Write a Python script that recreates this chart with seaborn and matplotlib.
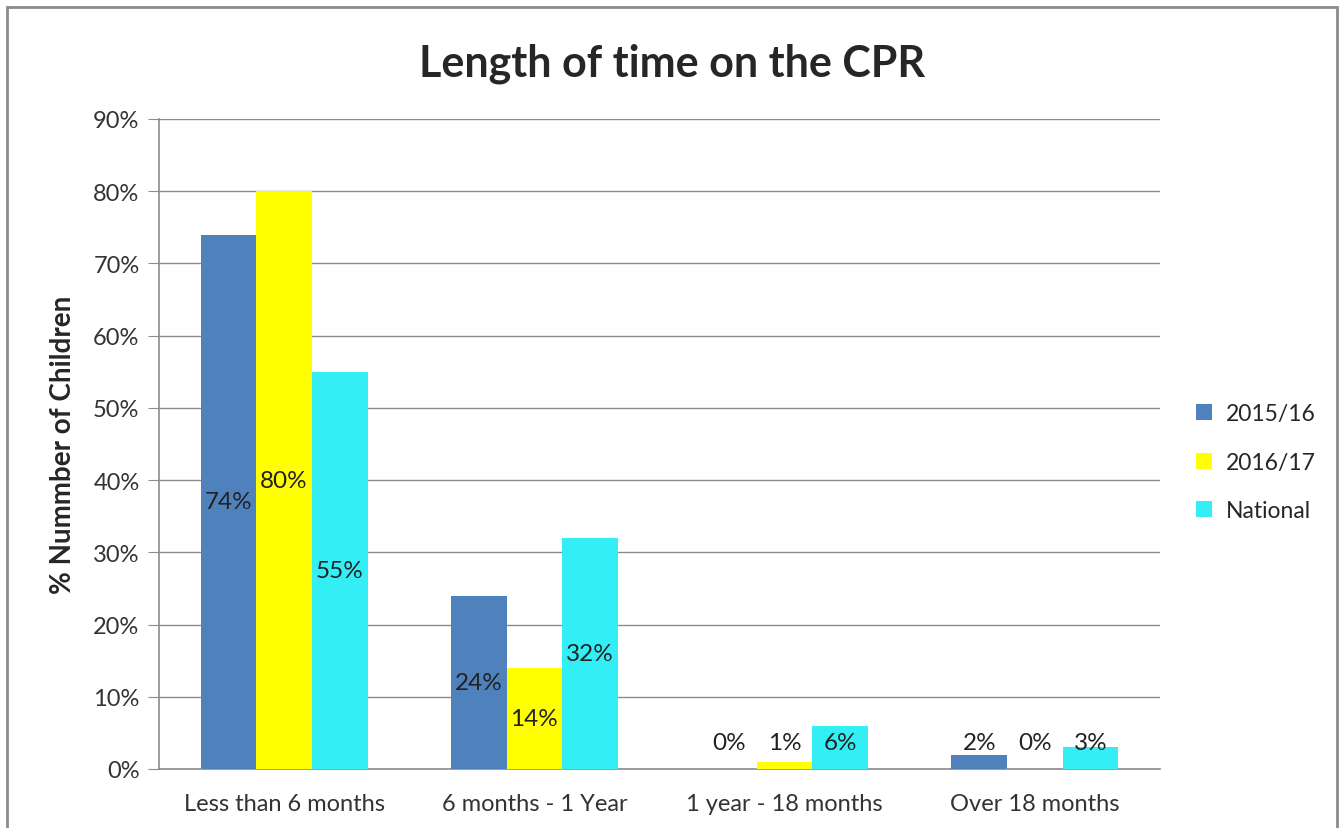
import pandas as pd
import seaborn as sns
import matplotlib.pyplot as plt
from matplotlib.patches import Rectangle

# Data
categories = ['Less than 6 months', '6 months - 1 Year', '1 year - 18 months', 'Over 18 months']
series = ['2015/16', '2016/17', 'National']
vals_2015 = [74, 24, 0, 2]
vals_2016 = [80, 14, 1, 0]
vals_national = [55, 32, 6, 3]
colors = ['#4F81BD', '#FFFF00', '#33EEF5']

rows = []
for s, vals in zip(series, [vals_2015, vals_2016, vals_national]):
    for c, v in zip(categories, vals):
        rows.append({'category': c, 'series': s, 'value': v})
df = pd.DataFrame(rows)

sns.set_style('white')
plt.rcParams['font.family'] = ['Lato', 'DejaVu Sans']

fig = plt.figure(figsize=(13.44, 8.29), dpi=100)
ax = fig.add_axes([0.1183, 0.0712, 0.7448, 0.7841])

sns.barplot(data=df, x='category', y='value', hue='series', order=categories,
            hue_order=series, palette=colors, width=0.667, saturation=1,
            edgecolor='none', ax=ax, zorder=3)

# Labels in the middle of each bar
for container in ax.containers:
    for bar in container:
        h = bar.get_height()
        ax.text(bar.get_x() + bar.get_width() / 2, max(h / 2, 3.7), f'{h:.0f}%',
                ha='center', va='center', fontsize=17.5, color='#222222', zorder=4)

ax.set_ylim(0, 90)
ax.set_yticks(range(0, 91, 10))
ax.set_yticklabels([f'{t}%' for t in range(0, 91, 10)], fontsize=17, color='#333333')
ax.tick_params(axis='x', labelsize=17, colors='#333333', length=0, pad=17)
ax.tick_params(axis='y', length=8, color='#8c8c8c', pad=6, left=True)
ax.grid(axis='y', color='#8c8c8c', linewidth=1, zorder=0)
ax.set_axisbelow(True)
for side in ['top', 'right']:
    ax.spines[side].set_visible(False)
for side in ['left', 'bottom']:
    ax.spines[side].set_color('#8c8c8c')
    ax.spines[side].set_linewidth(1.2)

ax.set_xlabel('')
ax.set_ylabel('% Nummber of Children', fontsize=20, fontweight='bold', labelpad=12)
fig.suptitle('Length of time on the CPR', fontsize=31, fontweight='bold', y=0.948)

handles, labels = ax.get_legend_handles_labels()
ax.legend(handles, labels, loc='center left', bbox_to_anchor=(1.015, 0.472), frameon=False,
          fontsize=16.5, handlelength=0.7, handleheight=0.7, labelspacing=1.2,
          handletextpad=0.6)

# Outer chart frame
fig.patches.append(Rectangle((0.005, -0.05), 0.99, 1.04, transform=fig.transFigure,
                             fill=False, edgecolor='#8c8c8c', linewidth=2))

plt.savefig('out.png', dpi=100)
